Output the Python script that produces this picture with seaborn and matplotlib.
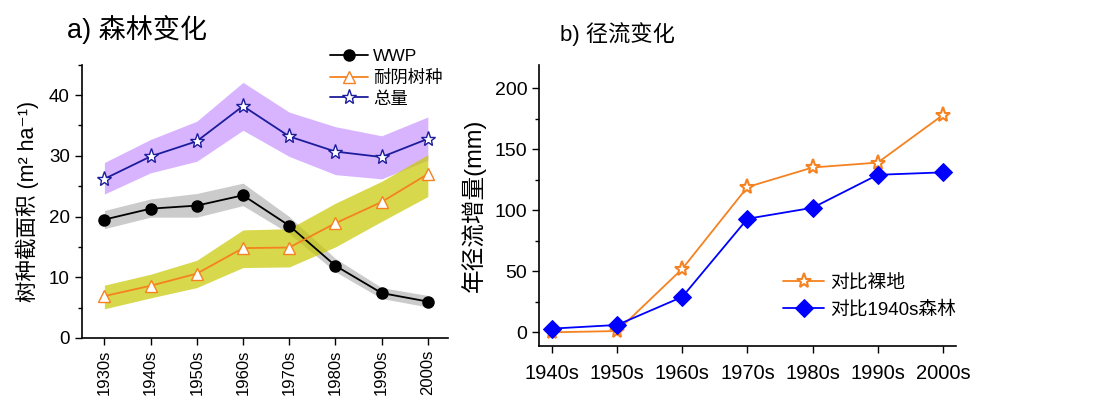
import numpy as np
import pandas as pd
import matplotlib
import matplotlib.pyplot as plt
from matplotlib.ticker import MultipleLocator
import seaborn as sns

matplotlib.use("Agg")

# ---- data: panel a (basal area, m2/ha) ----
decades_a = ["1930s", "1940s", "1950s", "1960s", "1970s", "1980s", "1990s", "2000s"]
wwp = [19.5, 21.3, 21.8, 23.5, 18.5, 11.9, 7.4, 6.0]
wwp_lo = [18.0, 19.9, 19.9, 21.8, 17.2, 10.9, 6.5, 5.1]
wwp_hi = [21.0, 22.9, 23.8, 25.5, 20.0, 13.1, 8.3, 7.0]
tol = [6.9, 8.6, 10.6, 14.8, 14.9, 18.9, 22.4, 27.0]
tol_lo = [4.8, 6.6, 8.3, 11.6, 11.7, 15.0, 19.2, 23.3]
tol_hi = [8.7, 10.5, 12.8, 17.8, 18.0, 22.2, 25.8, 30.2]
total = [26.2, 29.9, 32.4, 38.2, 33.2, 30.7, 29.8, 32.8]
total_lo = [23.7, 27.2, 29.1, 34.2, 29.9, 26.9, 26.2, 29.3]
total_hi = [28.9, 32.7, 35.7, 42.1, 37.2, 34.8, 33.3, 36.4]

# ---- data: panel b (runoff increase, mm) ----
decades_b = ["1940s", "1950s", "1960s", "1970s", "1980s", "1990s", "2000s"]
vs_bare = [0, 1, 52, 119, 135, 139, 178]
vs_1940 = [3, 6, 29, 93, 102, 129, 131]

sns.set_style("ticks", {"axes.edgecolor": "black", "text.color": "black",
                        "xtick.color": "black", "ytick.color": "black",
                        "axes.labelcolor": "black"})
plt.rcParams['font.family'] = ['Liberation Sans', 'Noto Sans CJK SC', 'DejaVu Sans']
plt.rcParams['axes.unicode_minus'] = False

fig = plt.figure(figsize=(11.09, 3.96), dpi=100)
ax1 = fig.add_axes([0.0737, 0.1465, 0.330, 0.690])
ax2 = fig.add_axes([0.486, 0.127, 0.376, 0.709])

xa = np.arange(len(decades_a))
df_a = pd.DataFrame({"x": np.tile(xa, 3),
                     "y": wwp + tol + total,
                     "s": ["WWP"] * 8 + ["耐阴树种"] * 8 + ["总量"] * 8})

# uncertainty bands
ax1.fill_between(xa, total_lo, total_hi, color="#b36bff", alpha=0.5, lw=0)
ax1.fill_between(xa, wwp_lo, wwp_hi, color="#999999", alpha=0.5, lw=0)
ax1.fill_between(xa, tol_lo, tol_hi, color="#c8c800", alpha=0.7, lw=0)

pal_a = {"WWP": "black", "耐阴树种": "#f58220", "总量": "#1c1c9c"}
for name, mk, ms, mfc in [("WWP", "o", 8, "black"),
                          ("耐阴树种", "^", 9, "white"),
                          ("总量", "*", 11, "white")]:
    sns.lineplot(data=df_a[df_a.s == name], x="x", y="y", ax=ax1,
                 color=pal_a[name], marker=mk, markersize=ms,
                 markerfacecolor=mfc, markeredgecolor=pal_a[name],
                 markeredgewidth=1.0, lw=1.3, label=name)

ax1.set_xlim(-0.49, 7.43)
ax1.set_ylim(0, 45)
ax1.set_xticks(xa)
ax1.set_xticklabels(decades_a, rotation=90, fontsize=12)
ax1.yaxis.set_major_locator(MultipleLocator(10))
ax1.yaxis.set_minor_locator(MultipleLocator(5))
ax1.tick_params(axis="y", labelsize=13.5)
ax1.set_xlabel("")
ax1.set_ylabel("树种截面积 (m² ha⁻¹)", fontsize=15.5, labelpad=7)
ax1.legend(loc="upper left", bbox_to_anchor=(330 / 1109, 0.876),
           bbox_transform=fig.transFigure, frameon=False,
           fontsize=12.5, handlelength=2.2, handletextpad=0.3,
           labelspacing=0.3, borderaxespad=0, borderpad=0)

# ---- panel b ----
xb = np.arange(len(decades_b))
df_b = pd.DataFrame({"x": np.tile(xb, 2),
                     "y": vs_bare + vs_1940,
                     "s": ["对比裸地"] * 7 + ["对比1940s森林"] * 7})
sns.lineplot(data=df_b[df_b.s == "对比裸地"], x="x", y="y", ax=ax2,
             color="#f58220", marker="*", markersize=11,
             markerfacecolor="white", markeredgecolor="#f58220",
             markeredgewidth=1.5, lw=1.3, label="对比裸地")
sns.lineplot(data=df_b[df_b.s == "对比1940s森林"], x="x", y="y", ax=ax2,
             color="#0000ff", marker="D", markersize=9,
             markeredgecolor="#0000ff", lw=1.3, label="对比1940s森林")

ax2.set_xlim(-0.2, 6.2)
ax2.set_ylim(-11, 219)
ax2.set_xticks(xb)
ax2.set_xticklabels(decades_b, fontsize=14.5)
ax2.yaxis.set_major_locator(MultipleLocator(50))
ax2.yaxis.set_minor_locator(MultipleLocator(25))
ax2.tick_params(axis="y", labelsize=14)
ax2.tick_params(axis="x", pad=8)
ax2.set_xlabel("")
ax2.set_ylabel("年径流增量(mm)", fontsize=17, labelpad=6)
ax2.legend(loc="upper left", bbox_to_anchor=(783 / 1109, 0.308),
           bbox_transform=fig.transFigure, frameon=False,
           fontsize=13.5, handlelength=2.2, handletextpad=0.3,
           labelspacing=0.5, borderaxespad=0, borderpad=0)

for ax in (ax1, ax2):
    sns.despine(ax=ax)
    ax.tick_params(which="major", direction="out", length=5, width=1)
    ax.tick_params(which="minor", direction="out", length=3, width=1)
    ax.tick_params(axis="x", which="minor", bottom=False)
    for sp in ("left", "bottom"):
        ax.spines[sp].set_linewidth(1.2)

fig.text(67 / 1109, 1 - 30 / 396, "a) 森林变化", fontsize=19.5, va="center", ha="left")
fig.text(560 / 1109, 1 - 34 / 396, "b) 径流变化", fontsize=16, va="center", ha="left")

fig.savefig("out.png", dpi=100)
